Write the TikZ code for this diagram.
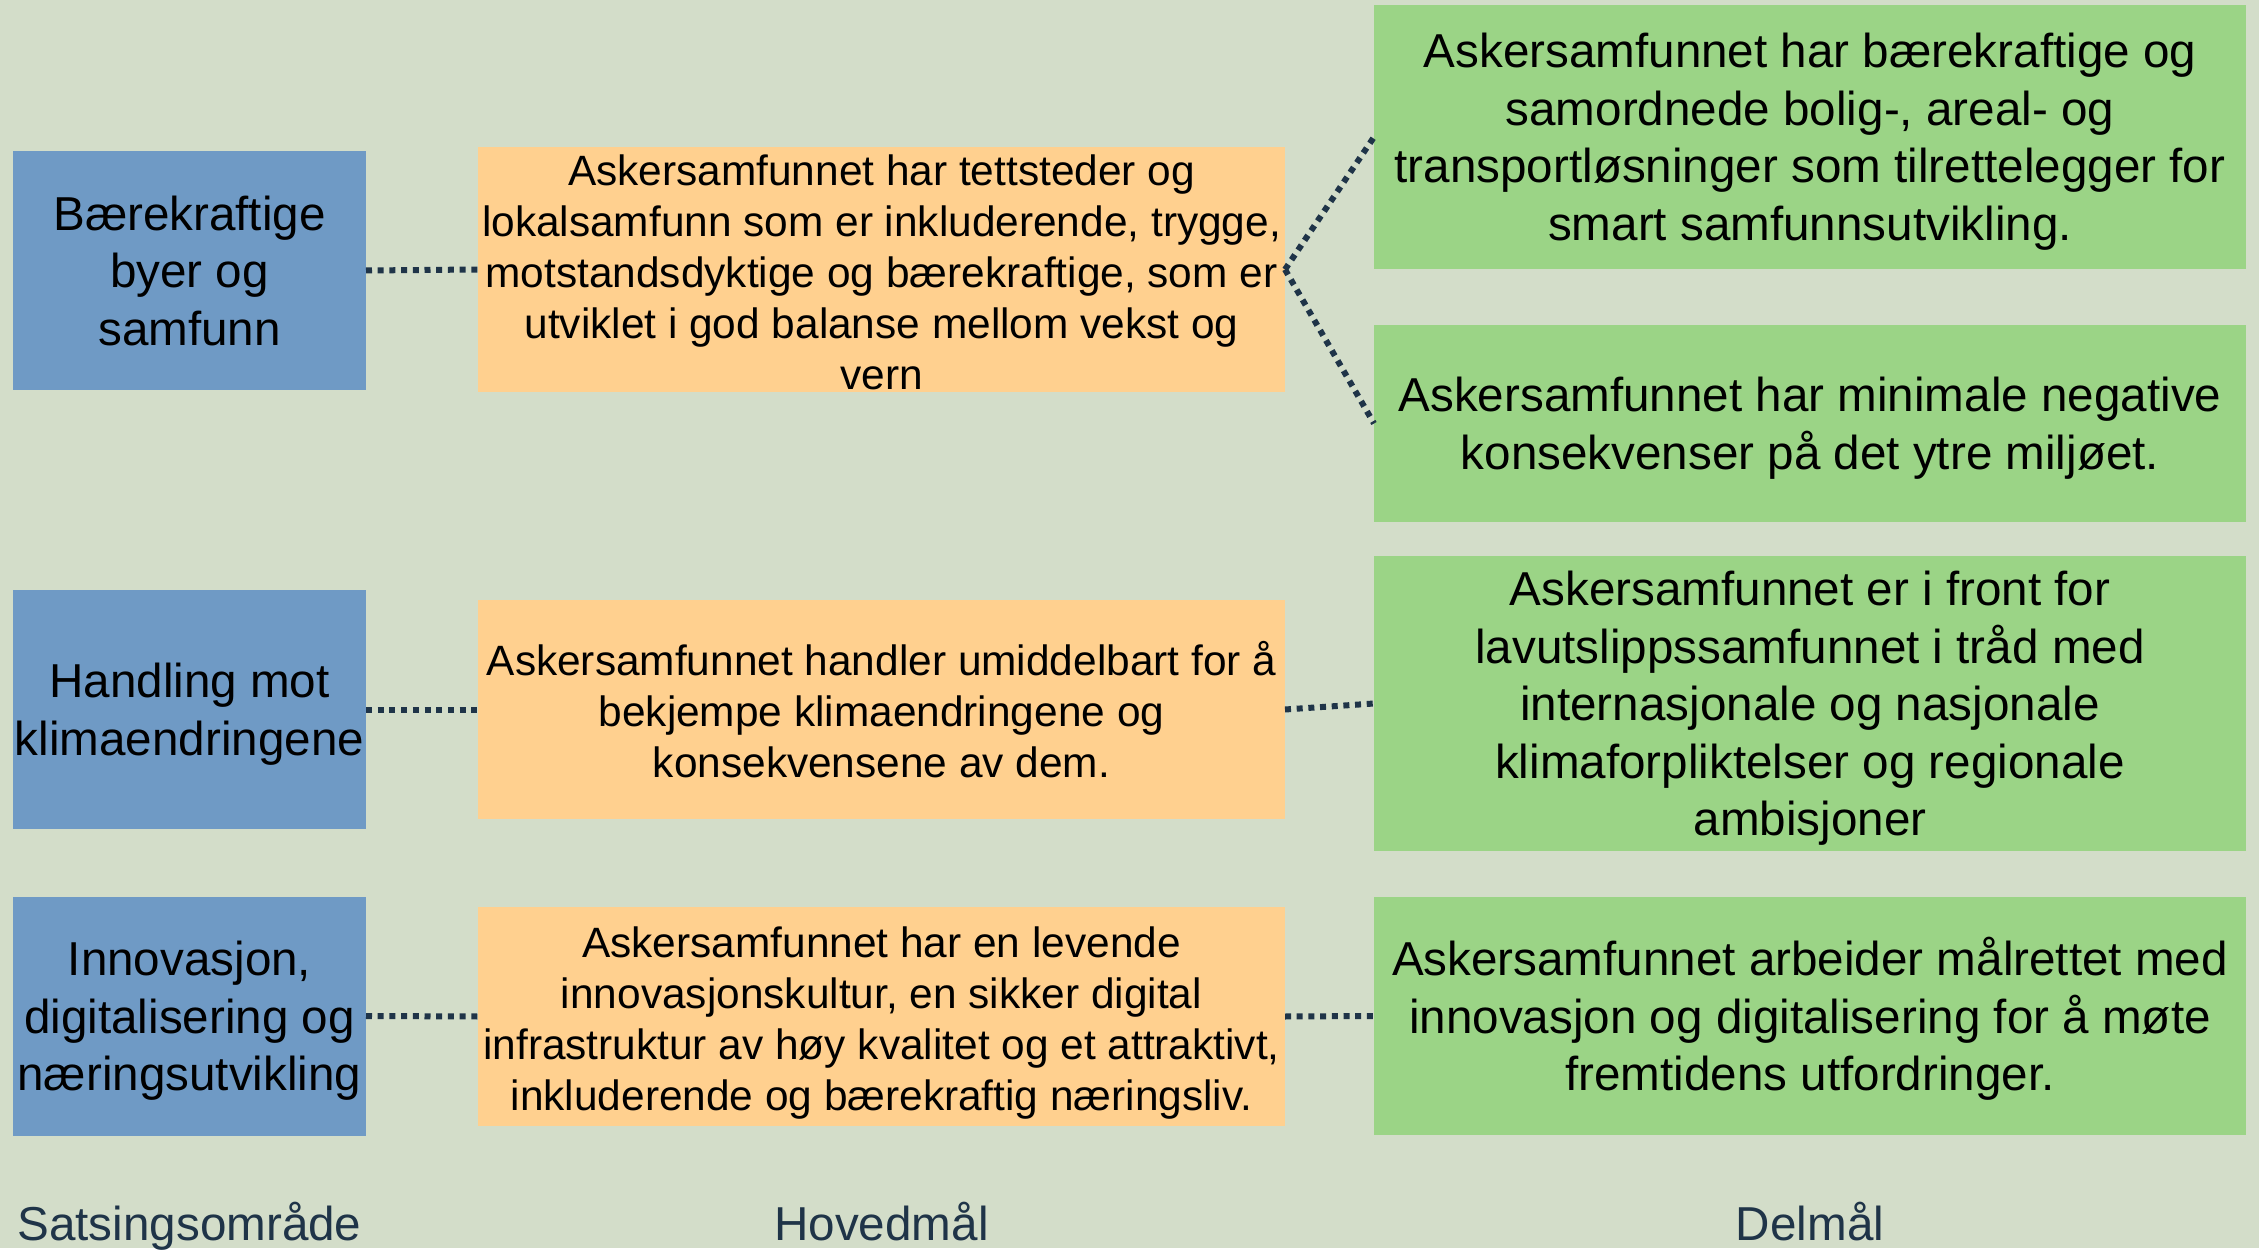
\documentclass[tikz,border=0pt]{standalone}
\usepackage{fontspec}
\setmainfont{Liberation Sans}

\definecolor{bgcol}{HTML}{D3DDC9}
\definecolor{areablue}{HTML}{6F9AC5}
\definecolor{mainorange}{HTML}{FFD08F}
\definecolor{subgreen}{HTML}{9BD486}
\definecolor{linknavy}{HTML}{1F3448}

% fixed first line height and last line depth, so all boxes sit the same
\newcommand{\boxtop}[1][22.3pt]{\rule{0pt}{#1}}
\newcommand{\boxbot}{\rule[-5.1pt]{0pt}{0pt}}

\tikzset{every picture/.style={line width=0.75pt}}
\tikzset{
	area/.style={fill=areablue, inner sep=0pt, outer sep=0pt, align=center, minimum width=176.5pt, minimum height=119.5pt, font=\fontsize{23.8}{28.8}\selectfont},
	mainbox/.style={fill=mainorange, inner sep=0pt, outer sep=0pt, align=center, minimum width=403.5pt, font=\fontsize{21.2}{25.5}\selectfont},
	subbox/.style={fill=subgreen, inner sep=0pt, outer sep=0pt, align=center, minimum width=436pt, font=\fontsize{23.8}{28.8}\selectfont},
	caption/.style={anchor=base, inner sep=0pt, text=linknavy, font=\fontsize{23.8}{28.5}\selectfont},
	link/.style={draw=linknavy, line width=3pt, dash pattern=on 3pt off 2.85pt}
}

\begin{document}
\begin{tikzpicture}[x=0.5pt,y=0.5pt,yscale=-1,xscale=1]
		%background, sets the diagram to 2259 x 1248
		\fill [bgcol] (0,0) rectangle (2259,1248) ;
		
		%Satsingsomraade
		\node [area] (sat1) at (189.5,270.5) {\boxtop Bærekraftige\\byer og\\samfunn\boxbot};
		\node [area] (sat2) at (189.5,709.5) {\boxtop Handling mot\\klimaendringene\boxbot};
		\node [area] (sat3) at (189.5,1016) {\boxtop Innovasjon,\\digitalisering og\\næringsutvikling\boxbot};
		
		%Hovedmaal
		\node [mainbox, minimum height=122.5pt] (hov1) at (881.5,269.5) {\boxtop[18pt]Askersamfunnet har tettsteder og\\lokalsamfunn som er inkluderende, trygge,\\motstandsdyktige og bærekraftige, som er\\utviklet i god balanse mellom vekst og\\vern};
		\node [mainbox, minimum height=109.5pt] (hov2) at (881.5,709.5) {\boxtop Askersamfunnet handler umiddelbart for å\\bekjempe klimaendringene og\\konsekvensene av dem.\boxbot};
		\node [mainbox, minimum height=109.5pt] (hov3) at (881.5,1016.5) {\boxtop Askersamfunnet har en levende\\innovasjonskultur, en sikker digital\\infrastruktur av høy kvalitet og et attraktivt,\\inkluderende og bærekraftig næringsliv.\boxbot};
		
		%Delmaal
		\node [subbox, minimum height=132pt] (del1) at (1810,137) {\boxtop Askersamfunnet har bærekraftige og\\samordnede bolig-, areal- og\\transportløsninger som tilrettelegger for\\smart samfunnsutvikling.\boxbot};
		\node [subbox, minimum height=98.5pt] (del2) at (1810,423.5) {\boxtop Askersamfunnet har minimale negative\\konsekvenser på det ytre miljøet.\boxbot};
		\node [subbox, minimum height=147.5pt] (del3) at (1810,703.5) {\boxtop Askersamfunnet er i front for\\lavutslippssamfunnet i tråd med\\internasjonale og nasjonale\\klimaforpliktelser og regionale\\ambisjoner\boxbot};
		\node [subbox, minimum height=119pt] (del4) at (1810,1016) {\boxtop Askersamfunnet arbeider målrettet med\\innovasjon og digitalisering for å møte\\fremtidens utfordringer.\boxbot};
		
		%dotted links
		\draw [link] (sat1.east) -- (hov1.west) ;
		\draw [link] (sat2.east) -- (hov2.west) ;
		\draw [link] (sat3.east) -- (hov3.west) ;
		\draw [link] (hov1.east) -- (del1.west) ;
		\draw [link] (hov1.east) -- (del2.west) ;
		\draw [link] (hov2.east) -- (del3.west) ;
		\draw [link] (hov3.east) -- (del4.west) ;
		
		\node [caption] (capsat) at (189.5,1240) {Satsingsområde};
		\node [caption] (caphov) at (881.5,1240) {Hovedmål};
		\node [caption] (capdel) at (1810,1240) {Delmål};
		
	\end{tikzpicture}
\end{document}
